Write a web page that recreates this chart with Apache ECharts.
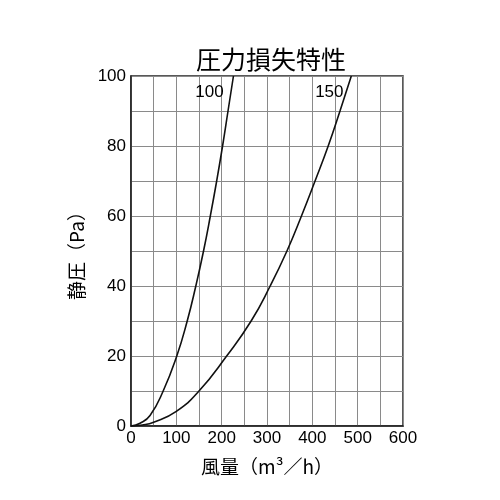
<!DOCTYPE html>
<html>
<head>
<meta charset="utf-8">
<script src="https://cdn.jsdelivr.net/npm/echarts@6/dist/echarts.min.js"></script>
<style>
html,body{margin:0;padding:0;background:#fff;}
#chart{width:500px;height:500px;}
</style>
</head>
<body>
<div id="chart"></div>
<script>
// 风量 / 静压 读数 (100, 150 两条曲线)
var flow100 = [0, 20, 42, 71, 101, 124, 143, 160, 175, 189, 202, 214, 226];
var pa100   = [0, 0.8, 3, 10, 20, 30, 40, 50, 60, 70, 80, 90, 100];
var flow150 = [0, 25, 50, 100, 150, 211, 265, 307, 344, 376, 406, 435, 461, 486];
var pa150   = [0, 0.3, 1.1, 4.2, 10, 20, 30, 40, 50, 60, 70, 80, 90, 100];
var curveNames = ['100', '150'];

function pairs(xs, ys){
	var out = [];
	for(var i=0;i<xs.length;i++){
		out.push([xs[i], ys[i]]);
	}
	return out;
}

function curve(name, data, labelOffset){
	return {
		name: name,
		type: 'line',
		data: data,
		smooth: 0.5,
		symbol: 'none',
		silent: true,
		lineStyle: {color: '#111', width: 1.6},
		markPoint: {
			symbol: 'circle',
			symbolSize: 0,
			silent: true,
			data: [{
				coord: data[data.length-1],
				label: {
					show: true,
					formatter: name,
					offset: labelOffset,
					color: '#000',
					fontSize: 17,
					fontFamily: 'Liberation Sans, Arial, sans-serif'
				}
			}]
		}
	};
}

var chart = echarts.init(document.getElementById('chart'));
var gridLine = {show: true, lineStyle: {color: '#8a8a8a', width: 1}};
var option = {
	animation: false,
	title: {
		text: '圧力損失特性',
		left: 266,
		textAlign: 'center',
		top: 42,
		textStyle: {
			fontSize: 25,
			fontWeight: 'normal',
			color: '#000',
			fontFamily: 'Noto Sans CJK JP'
		}
	},
	grid: {
		left: 131,
		right: 97,
		top: 76,
		bottom: 74,
		show: true,
		borderColor: '#222',
		borderWidth: 1.5
	},
	xAxis: {
		type: 'value',
		min: 0,
		max: 600,
		interval: 100,
		name: '風量（m³／h）',
		nameLocation: 'middle',
		nameGap: 31,
		nameTextStyle: {fontSize: 19, color: '#000', fontFamily: 'Noto Sans CJK JP'},
		axisLine: {show: true, lineStyle: {color: '#222', width: 1.5}},
		axisTick: {show: false},
		axisLabel: {fontSize: 17, color: '#000', margin: 4, fontFamily: 'Liberation Sans, Arial, sans-serif'},
		splitLine: gridLine,
		minorTick: {show: false, splitNumber: 2},
		minorSplitLine: gridLine
	},
	yAxis: {
		type: 'value',
		min: 0,
		max: 100,
		interval: 20,
		name: '静圧（Pa）',
		nameLocation: 'middle',
		nameGap: 38,
		nameTextStyle: {fontSize: 19, color: '#000', fontFamily: 'Noto Sans CJK JP'},
		axisLine: {show: true, lineStyle: {color: '#222', width: 1.5}},
		axisTick: {show: false},
		axisLabel: {fontSize: 17, color: '#000', margin: 5, fontFamily: 'Liberation Sans, Arial, sans-serif'},
		splitLine: gridLine,
		minorTick: {show: false, splitNumber: 2},
		minorSplitLine: gridLine
	},
	series: [
		curve(curveNames[0], pairs(flow100, pa100), [-24, 16]),
		curve(curveNames[1], pairs(flow150, pa150), [-22, 16])
	]
};
chart.setOption(option);
</script>
</body>
</html>
